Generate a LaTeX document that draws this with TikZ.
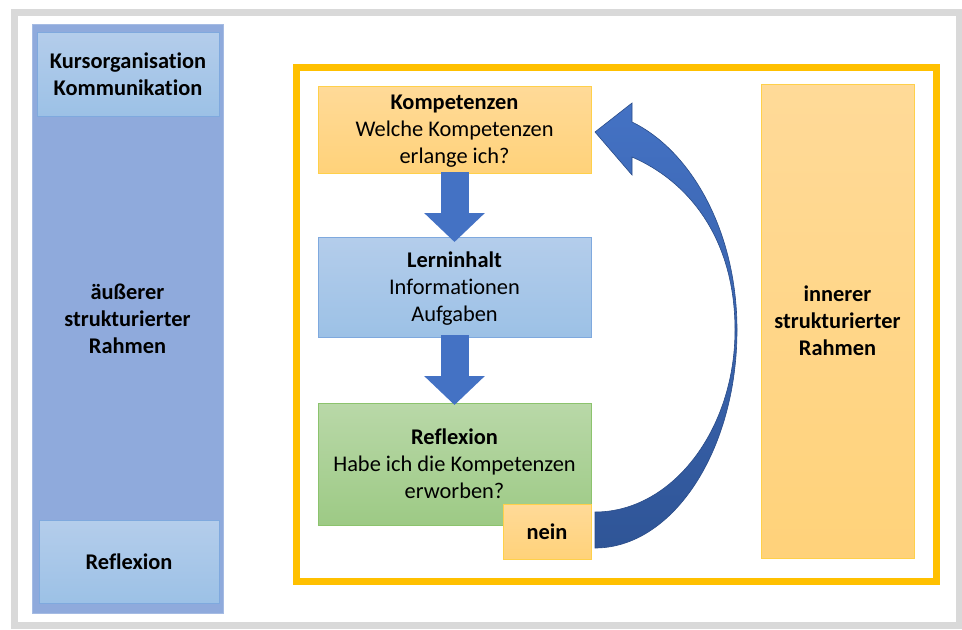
\documentclass[tikz,border=0pt]{standalone}
\usepackage{fontspec}
\setmainfont{Carlito}[Ligatures=NoCommon]
\usepackage{tikz}
\usetikzlibrary{calc}
\usetikzlibrary{arrows.meta}
\newcommand{\px}{0.75pt}
\newcommand{\boxfont}{\fontsize{16.8pt}{20.25pt}\selectfont}
\definecolor{framegrey}{HTML}{D9D9D9}
\definecolor{framegold}{HTML}{FFC000}
\definecolor{columnblue}{HTML}{8FAADC}
\definecolor{lightbluetop}{HTML}{B4CDEB}
\definecolor{lightbluebot}{HTML}{9CC1E6}
\definecolor{lightblueline}{HTML}{7FA9DE}
\definecolor{yellowtop}{HTML}{FFDA98}
\definecolor{yellowbot}{HTML}{FFD27A}
\definecolor{yellowline}{HTML}{FFD04A}
\definecolor{greentop}{HTML}{B9D8A8}
\definecolor{greenbot}{HTML}{9DCA85}
\definecolor{greenline}{HTML}{8CC36D}
\definecolor{arrowblue}{HTML}{4472C4}
\definecolor{arrowdark}{HTML}{2F5597}
\tikzstyle{box}=[inner sep=0, outer sep=0, align=center, text depth=0pt, font=\boxfont, line width=1*\px]
\tikzstyle{bluebox}=[box, draw=lightblueline, top color=lightbluetop, bottom color=lightbluebot]
\tikzstyle{yellowbox}=[box, draw=yellowline, top color=yellowtop, bottom color=yellowbot]
\tikzstyle{greenbox}=[box, draw=greenline, top color=greentop, bottom color=greenbot]
\tikzstyle{column}=[box, draw=columnblue!80!white, fill=columnblue]
\tikzstyle{flowarrow}=[draw=arrowblue, line width=28*\px, -{Triangle[width=59*\px, length=29*\px]}]
\tikzstyle{curvedarrow}=[draw=arrowdark!90!black, line width=0.6*\px, top color=arrowblue, bottom color=arrowdark]
\tikzstyle{diagram}=[x=\px, y=-\px,
                     % Fixed page size of the picture.
                     execute at begin picture={\useasboundingbox (0, 0) rectangle (962, 629);}]

\begin{document}
\begin{tikzpicture}[diagram]
        \draw[framegrey, line width=7*\px] (14.5, 12) rectangle (959.5, 625.5);
        \node[column, minimum width=191*\px, minimum height=589*\px]           (outer) at (127.5, 318.5) {\textbf{äußerer}\\\textbf{strukturierter}\\\textbf{Rahmen}};
        \node[bluebox, minimum width=182*\px, minimum height=84*\px]           (orga)  at (128, 74)      {\textbf{Kursorganisation}\\\textbf{Kommunikation}};
        \node[bluebox, minimum width=180*\px, minimum height=83*\px]           (refl1) at (129, 561.5)   {\textbf{Reflexion}};
        \draw[framegold, line width=7*\px] (296, 67.5) rectangle (936, 581);
        \node[yellowbox, minimum width=273*\px, minimum height=87*\px]         (komp)  at (454.5, 129.5) {\textbf{Kompetenzen}\\Welche Kompetenzen\\erlange ich?};
        \node[bluebox, minimum width=273*\px, minimum height=100*\px]          (lern)  at (454.5, 287)   {\textbf{Lerninhalt}\\Informationen\\Aufgaben};
        \node[greenbox, minimum width=273*\px, minimum height=122*\px]         (refl2) at (454.5, 464)   {\textbf{Reflexion}\\Habe ich die Kompetenzen\\erworben?};
        \node[yellowbox, minimum width=88*\px, minimum height=55*\px]          (nein)  at (547, 531.5)   {\textbf{nein}};
        \node[yellowbox, minimum width=153*\px, minimum height=474*\px]        (inner) at (837.5, 321)   {\textbf{innerer}\\\textbf{strukturierter}\\\textbf{Rahmen}};
        \draw[flowarrow, shorten <=-1*\px, shorten >=-5*\px] (komp.south) -- (lern.north);
        \draw[flowarrow, shorten <=-2*\px, shorten >=-2*\px] (lern.south) -- (refl2.north);
        \coordinate (tip)  at ($(komp.east)+(4, 2.5)$);
        \coordinate (tail) at ($(nein.east)+(4, -1.5)$);
        \path[curvedarrow] (tip) -- ++(37, -29) -- ++(0, 19)
            .. controls +(58, 28) and +(0, -100) .. ($(tip)+(142, 198)$) coordinate (bend)
            .. controls +(0, 120) and +(78, 0) .. ($(tail)+(0, 18)$)
            -- ++(0, -36)
            .. controls +(77, 0) and +(0, 100) .. ($(bend)+(-2, 0)$)
            .. controls +(0, -90) and +(58, 25) .. ($(tip)+(37, 25)$)
            -- ++(0, 18) -- cycle;
    \end{tikzpicture}
\end{document}
